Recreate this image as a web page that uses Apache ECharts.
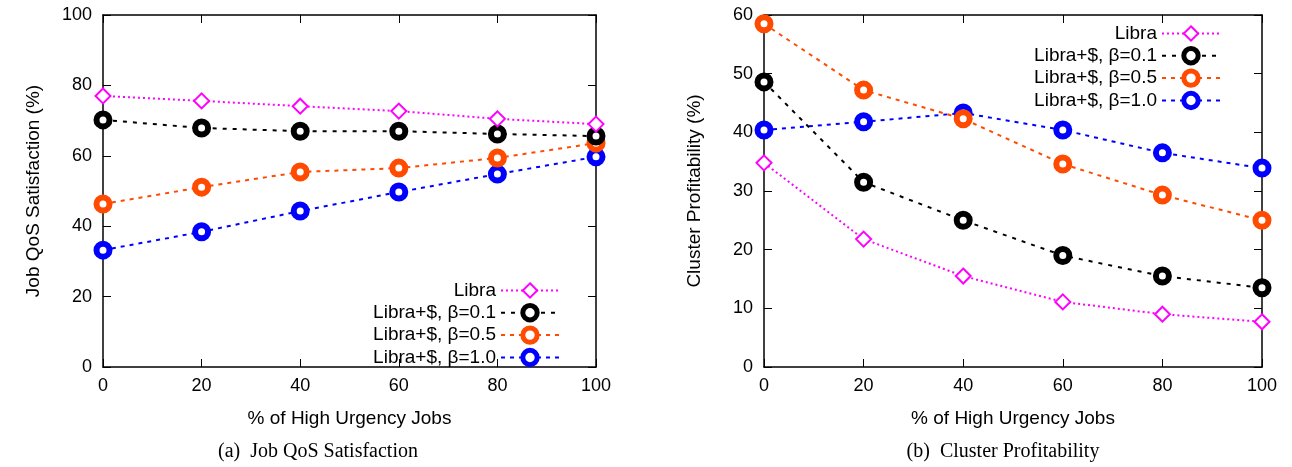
<!DOCTYPE html>
<html>
<head>
<meta charset="utf-8">
<script src="https://cdn.jsdelivr.net/npm/echarts@6/dist/echarts.min.js"></script>
<style>
    html, body { margin: 0; padding: 0; background: #fff; }
    #main { width: 1292px; height: 467px; }
</style>
</head>
<body>
<div id="main"></div>
<script>
    // x values: % of high urgency jobs
    var urgency = [0, 20, 40, 60, 80, 100];
    var seriesNames = ['Libra', 'Libra+$, β=0.1', 'Libra+$, β=0.5', 'Libra+$, β=1.0'];

    // (a) job QoS satisfaction (%)
    var qosLibra = [77, 75.6, 74.1, 72.7, 70.5, 69];
    var qosB01 = [70.2, 67.9, 67, 67, 66.2, 65.6];
    var qosB05 = [46.3, 51.1, 55.4, 56.5, 59.4, 63.6];
    var qosB10 = [33.2, 38.4, 44.3, 49.7, 54.8, 59.7];

    // (b) cluster profitability (%)
    var profLibra = [34.8, 21.8, 15.5, 11.1, 9, 7.7];
    var profB01 = [48.6, 31.5, 25, 19, 15.5, 13.5];
    var profB05 = [58.5, 47.2, 42.3, 34.6, 29.3, 25];
    var profB10 = [40.4, 41.8, 43.3, 40.4, 36.5, 33.9];

    var font = 'Liberation Sans, Arial, Helvetica, sans-serif';
    var colors = ['#ff00ff', '#000000', '#ff4a00', '#0000ff'];
    var dashes = [[2, 3], [4, 6], [4, 5], [4, 5]];

    function pairs(vals) {
        return urgency.map(function (x, i) { return [x, vals[i]]; });
    }

    function mkSeries(idx, gridIdx, vals) {
        var isLibra = idx === 0;
        return {
            name: seriesNames[idx],
            type: 'line',
            xAxisIndex: gridIdx * 2,
            yAxisIndex: gridIdx * 2,
            data: pairs(vals),
            symbol: isLibra ? 'diamond' : 'circle',
            symbolSize: isLibra ? 15 : 13,
            showAllSymbol: true,
            lineStyle: { color: colors[idx], width: 2, type: dashes[idx] },
            itemStyle: { color: '#fff', borderColor: colors[idx], borderWidth: isLibra ? 2 : 6 },
            emphasis: { disabled: true },
            z: 10 - idx
        };
    }

    function xAx(gridIdx, show) {
        return {
            type: 'value', gridIndex: gridIdx, min: 0, max: 100, interval: 20,
            position: show ? 'bottom' : 'top',
            name: show ? '% of High Urgency Jobs' : '',
            nameLocation: 'middle', nameGap: 42,
            nameTextStyle: { fontFamily: font, fontSize: 19, color: '#000' },
            axisLine: { show: true, onZero: false, lineStyle: { color: '#000', width: 1.5 } },
            axisTick: { show: true, inside: true, length: 8, lineStyle: { color: '#000', width: 1 } },
            axisLabel: { show: show, fontFamily: font, fontSize: 18, color: '#000', margin: 10 },
            splitLine: { show: false }
        };
    }

    function yAx(gridIdx, show, max, interval, name, gap) {
        return {
            type: 'value', gridIndex: gridIdx, min: 0, max: max, interval: interval,
            position: show ? 'left' : 'right',
            name: show ? name : '',
            nameLocation: 'middle', nameGap: gap, nameRotate: 90,
            nameTextStyle: { fontFamily: font, fontSize: 19, color: '#000' },
            axisLine: { show: true, onZero: false, lineStyle: { color: '#000', width: 1.5 } },
            axisTick: { show: true, inside: true, length: 8, lineStyle: { color: '#000', width: 1 } },
            axisLabel: { show: show, fontFamily: font, fontSize: 18, color: '#000', margin: 11 },
            splitLine: { show: false }
        };
    }

    function legendData() {
        return seriesNames.map(function (n, i) {
            return {
                name: n,
                itemStyle: { color: '#fff', borderColor: colors[i], borderWidth: i === 0 ? 2 : 5 }
            };
        });
    }

    function legendAt(opts) {
        var base = {
            orient: 'vertical', align: 'right',
            itemWidth: 58, itemHeight: 18, itemGap: 3,
            selectedMode: false,
            textStyle: { fontFamily: font, fontSize: 19, color: '#000' },
            data: legendData()
        };
        for (var k in opts) base[k] = opts[k];
        return base;
    }

    var chart = echarts.init(document.getElementById('main'));
    chart.setOption({
        animation: false,
        backgroundColor: '#fff',
        grid: [
            { left: 103, top: 15, width: 493, height: 352 },
            { left: 764, top: 15, width: 498, height: 352 }
        ],
        xAxis: [xAx(0, true), xAx(0, false), xAx(1, true), xAx(1, false)],
        yAxis: [
            yAx(0, true, 100, 20, 'Job QoS Satisfaction (%)', 60),
            yAx(0, false, 100, 20, '', 0),
            yAx(1, true, 60, 10, 'Cluster Profitability (%)', 60),
            yAx(1, false, 60, 10, '', 0)
        ],
        legend: [
            legendAt({ right: 727, top: 276 }),
            legendAt({ right: 66, top: 19 })
        ],
        series: [
            mkSeries(0, 0, qosLibra), mkSeries(1, 0, qosB01), mkSeries(2, 0, qosB05), mkSeries(3, 0, qosB10),
            mkSeries(0, 1, profLibra), mkSeries(1, 1, profB01), mkSeries(2, 1, profB05), mkSeries(3, 1, profB10)
        ],
        graphic: [
            { type: 'text', x: 318, y: 452,
              style: { text: '(a)  Job QoS Satisfaction', font: '20px "Liberation Serif", "Times New Roman", serif',
                       fill: '#000', align: 'center', verticalAlign: 'middle' } },
            { type: 'text', x: 1003, y: 452,
              style: { text: '(b)  Cluster Profitability', font: '20px "Liberation Serif", "Times New Roman", serif',
                       fill: '#000', align: 'center', verticalAlign: 'middle' } }
        ]
    });
</script>
</body>
</html>
